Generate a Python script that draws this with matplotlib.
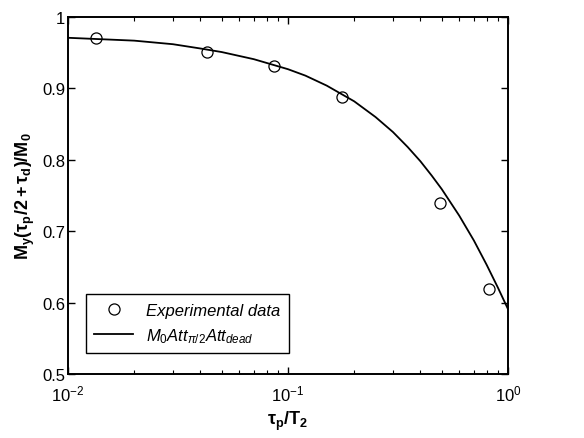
import matplotlib
matplotlib.use('Agg')
import matplotlib.pyplot as plt
from matplotlib.ticker import LogLocator, NullFormatter

plt.rcParams['font.family'] = ['Liberation Sans', 'DejaVu Sans']
plt.rcParams['mathtext.fontset'] = 'custom'
plt.rcParams['mathtext.rm'] = 'Liberation Sans'
plt.rcParams['mathtext.it'] = 'Liberation Sans:italic'
plt.rcParams['mathtext.bf'] = 'Liberation Sans:bold'
plt.rcParams['axes.unicode_minus'] = False

# experimental points
exp_x = [0.0134, 0.0428, 0.0864, 0.176, 0.49, 0.82]
exp_y = [0.971, 0.951, 0.932, 0.888, 0.740, 0.619]

# model curve
fit_x = [0.01, 0.02, 0.03, 0.04, 0.05, 0.07, 0.1, 0.12, 0.15, 0.2, 0.25, 0.3, 0.35,
         0.4, 0.45, 0.5, 0.6, 0.7, 0.8, 0.9, 1.0]
fit_y = [0.971, 0.967, 0.962, 0.956, 0.951, 0.941, 0.927, 0.918, 0.904, 0.882, 0.860,
         0.839, 0.818, 0.798, 0.778, 0.759, 0.722, 0.687, 0.653, 0.621, 0.591]

x_ticks = [0.01, 0.1, 1]
x_labels = [r'$\mathregular{10^{-2}}$', r'$\mathregular{10^{-1}}$', r'$\mathregular{10^{0}}$']
y_ticks = [0.5, 0.6, 0.7, 0.8, 0.9, 1.0]
y_labels = ['0.5', '0.6', '0.7', '0.8', '0.9', '1']

fig = plt.figure(figsize=(5.84, 4.39), dpi=100)
ax = fig.add_axes([0.1164, 0.1458, 0.7534, 0.813])

ax.plot(exp_x, exp_y, 'o', mfc='none', mec='black', ms=8, mew=0.9, label='Experimental data')
ax.plot(fit_x, fit_y, '-', color='black', lw=1.3, label=r'$\mathit{M_0Att_{\pi/2}Att_{dead}}$')

ax.set_xscale('log')
ax.set_xlim(0.01, 1)
ax.set_ylim(0.5, 1)
ax.set_xticks(x_ticks)
ax.set_xticklabels(x_labels)
ax.set_yticks(y_ticks)
ax.set_yticklabels(y_labels)
ax.xaxis.set_minor_locator(LogLocator(base=10, subs=range(2, 10)))
ax.xaxis.set_minor_formatter(NullFormatter())

ax.tick_params(which='both', direction='in', top=True, right=True, labelsize=12)
ax.tick_params(which='major', length=5, width=1)
ax.tick_params(which='minor', length=3, width=0.8)
ax.tick_params(axis='x', which='major', pad=7)
ax.tick_params(axis='y', which='major', pad=2)
for s in ax.spines.values():
    s.set_linewidth(1.4)

ax.set_xlabel(r'$\mathbf{\tau_p/T_2}$', fontsize=13)
ax.set_ylabel(r'$\mathbf{M_y(\tau_p/2+\tau_d)/M_0}$', fontsize=13)

leg = ax.legend(loc='lower left', bbox_to_anchor=(0.041, 0.059), borderaxespad=0,
                fancybox=False, edgecolor='black', framealpha=1, borderpad=0.5,
                handlelength=2.3, prop={'style': 'italic', 'size': 12})
leg.get_frame().set_linewidth(1.0)

fig.savefig('out.png', dpi=100)
